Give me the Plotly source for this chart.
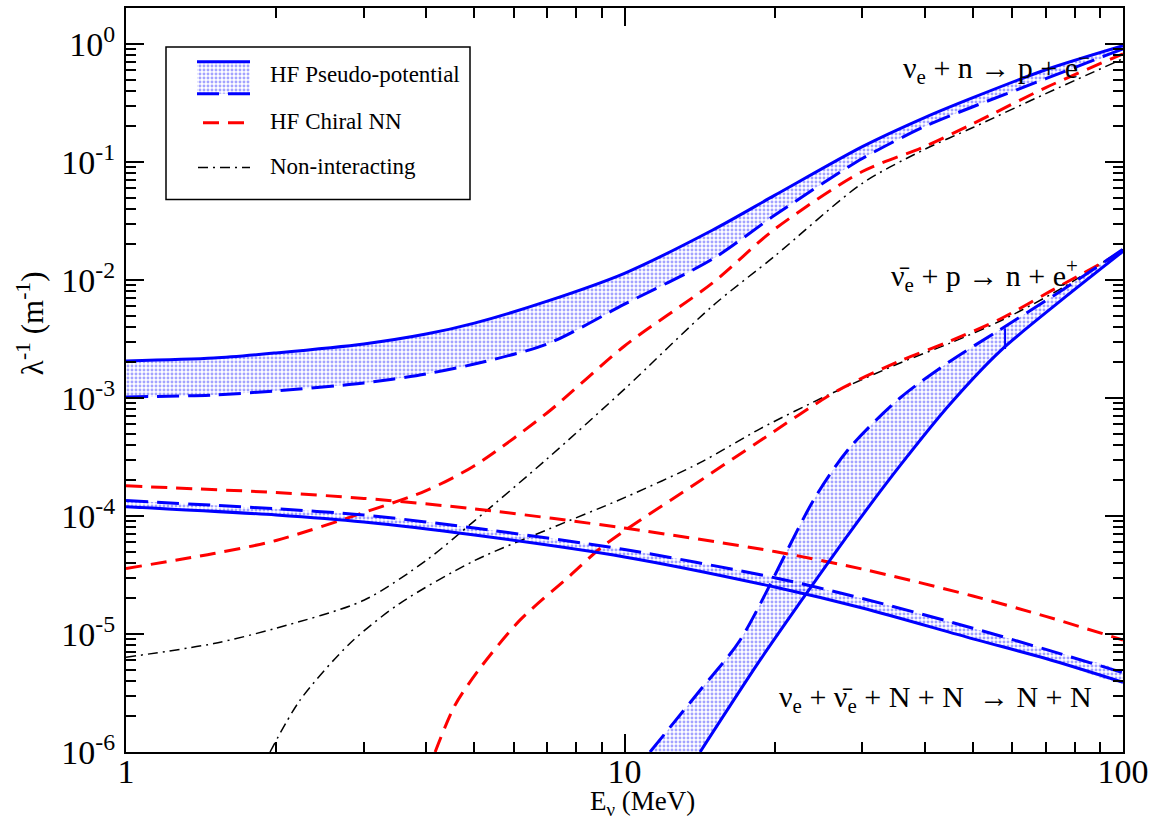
import plotly.graph_objects as go

# ---------------- data: inverse mean free path (m^-1) vs neutrino energy (MeV)
# nu_e + n -> p + e-
E_abs = [1, 1.5, 2, 3, 4, 5, 7, 10, 15, 20, 30, 40, 50, 70, 100]
nue_n_hf_hi = [2.06e-3, 2.18e-3, 2.41e-3, 2.87e-3, 3.48e-3, 4.31e-3, 6.62e-3, 1.14e-2, 2.64e-2, 5.21e-2, 0.135, 0.238, 0.351, 0.605, 0.966]
nue_n_hf_lo = [1.02e-3, 1.06e-3, 1.15e-3, 1.34e-3, 1.6e-3, 1.94e-3, 2.87e-3, 6.24e-3, 1.5e-2, 3.53e-2, 0.107, 0.2, 0.294, 0.508, 0.91]
nue_n_chiral = [3.59e-5, 4.81e-5, 6.2e-5, 1.07e-4, 1.64e-4, 2.67e-4, 7.5e-4, 2.76e-3, 9.4e-3, 2.69e-2, 8.3e-2, 0.135, 0.211, 0.427, 0.826]
nue_n_free = [6.35e-6, 8.3e-6, 1.12e-5, 1.93e-5, 4.2e-5, 9.1e-5, 3.06e-4, 1.19e-3, 6.0e-3, 1.59e-2, 6.6e-2, 0.128, 0.196, 0.38, 0.75]

# anti-nu_e + p -> n + e+
E_anue_hi = [11.25, 14.18, 17.05, 24.1, 28.3, 35.7, 45.0, 56.7, 74.8, 100]
anue_p_hf_hi = [1e-6, 3.34e-6, 8.85e-6, 1.43e-4, 3.79e-4, 1.0e-3, 2.05e-3, 3.8e-3, 8.0e-3, 1.82e-2]
E_anue_lo = [14.18, 18.7, 22.5, 28.3, 35.7, 45.0, 56.7, 74.8, 100]
anue_p_hf_lo = [1e-6, 6.0e-6, 1.85e-5, 7.24e-5, 2.67e-4, 8.9e-4, 2.5e-3, 6.62e-3, 1.75e-2]
# short step in the upper boundary near 58 MeV
E_anue_step = [58, 58]
anue_p_step = [2.6e-3, 3.9e-3]
E_anue_chiral = [4.17, 4.57, 5.13, 6.17, 7.78, 8.93, 10, 14.18, 18.7, 26.7, 35.7, 45.0, 56.7, 71.4, 100]
anue_p_chiral = [1e-6, 2.49e-6, 5.13e-6, 1.31e-5, 3.13e-5, 5.3e-5, 7.5e-5, 1.99e-4, 4.34e-4, 1.15e-3, 2.06e-3, 3.04e-3, 4.67e-3, 8.0e-3, 1.75e-2]
E_anue_free = [1.945, 2.234, 2.815, 3.545, 5.01, 7.09, 10, 14.18, 18.7, 25.5, 35.7, 45.0, 56.7, 74.8, 100]
anue_p_free = [1e-6, 2.75e-6, 8.35e-6, 1.82e-5, 4.2e-5, 7.83e-5, 1.43e-4, 2.83e-4, 5.48e-4, 1.05e-3, 1.98e-3, 2.92e-3, 4.49e-3, 8.36e-3, 1.82e-2]

# nu_e + anti-nu_e + N + N -> N + N
E_pair = [1, 2, 3, 5, 10, 20, 30, 50, 70, 100]
pair_hf_hi = [1.35e-4, 1.15e-4, 1.02e-4, 7.9e-5, 5.2e-5, 3.0e-5, 2.0e-5, 1.12e-5, 7.4e-6, 4.7e-6]
pair_hf_lo = [1.2e-4, 1.02e-4, 8.9e-5, 6.9e-5, 4.5e-5, 2.5e-5, 1.66e-5, 9.1e-6, 6.2e-6, 3.9e-6]
pair_chiral = [1.8e-4, 1.58e-4, 1.41e-4, 1.15e-4, 7.9e-5, 5.0e-5, 3.55e-5, 2.1e-5, 1.41e-5, 8.9e-6]

x_ticks = [1, 10, 100]
x_ticktext = ["1", "10", "100"]
y_ticks = [1e-6, 1e-5, 1e-4, 1e-3, 1e-2, 1e-1, 1e0]
y_ticktext = ["10<sup>-6</sup>", "10<sup>-5</sup>", "10<sup>-4</sup>", "10<sup>-3</sup>",
              "10<sup>-2</sup>", "10<sup>-1</sup>", "10<sup>0</sup>"]

legend_labels = ["HF Pseudo-potential", "HF Chiral NN", "Non-interacting"]

# ---------------- styles
BLUE = "#0000ff"
RED = "#ff0000"
FONT = "Liberation Serif"
W, H = 1156, 824
L, R, T, B = 126, 1123, 6, 752
pattern = dict(shape=".", fgcolor="#4848ff", bgcolor="rgba(255,255,255,0)", size=4, solidity=0.42)
blue_dash = "22px,9px"
red_dash = "16px,9px"
black_dashdot = "10px,5px,2px,5px"
SMOOTH = 0.8

fig = go.Figure()


def band(x_lo, y_lo, x_hi, y_hi):
    fig.add_trace(go.Scatter(
        x=list(x_lo) + list(x_hi)[::-1], y=list(y_lo) + list(y_hi)[::-1],
        mode="lines", fill="toself", fillpattern=pattern, fillcolor="rgba(0,0,0,0)",
        line=dict(width=0, shape="spline", smoothing=SMOOTH), hoverinfo="skip", showlegend=False))


def curve(x, y, color, width, dash):
    fig.add_trace(go.Scatter(
        x=x, y=y, mode="lines", showlegend=False,
        line=dict(color=color, width=width, dash=dash, shape="spline", smoothing=SMOOTH)))


# bands (HF pseudo-potential)
band(E_abs, nue_n_hf_lo, E_abs, nue_n_hf_hi)
band(E_anue_lo, anue_p_hf_lo, E_anue_hi, anue_p_hf_hi)
band(E_pair, pair_hf_lo, E_pair, pair_hf_hi)

# non-interacting
curve(E_abs, nue_n_free, "black", 1.5, black_dashdot)
curve(E_anue_free, anue_p_free, "black", 1.5, black_dashdot)
# chiral NN
curve(E_abs, nue_n_chiral, RED, 3, red_dash)
curve(E_anue_chiral, anue_p_chiral, RED, 3, red_dash)
curve(E_pair, pair_chiral, RED, 3, red_dash)
# pseudo-potential boundaries
curve(E_abs, nue_n_hf_hi, BLUE, 3, "solid")
curve(E_abs, nue_n_hf_lo, BLUE, 3, blue_dash)
curve(E_anue_lo, anue_p_hf_lo, BLUE, 3, "solid")
curve(E_anue_hi, anue_p_hf_hi, BLUE, 3, blue_dash)
curve(E_anue_step, anue_p_step, BLUE, 2, "solid")
curve(E_pair, pair_hf_lo, BLUE, 3, "solid")
curve(E_pair, pair_hf_hi, BLUE, 3, blue_dash)


# ---------------- legend, drawn on a hidden unit overlay axis
def fx(px):
    return (px - L) / (R - L)


def fy(py):
    return (B - py) / (B - T)


fig.add_trace(go.Scatter(
    x=[fx(197), fx(250), fx(250), fx(197), fx(197)], y=[fy(60), fy(60), fy(92), fy(92), fy(60)],
    xaxis="x2", yaxis="y2", mode="lines", fill="toself", fillpattern=pattern,
    fillcolor="rgba(0,0,0,0)", line=dict(width=0), showlegend=False, hoverinfo="skip"))
fig.add_trace(go.Scatter(x=[fx(197), fx(250)], y=[fy(60), fy(60)], xaxis="x2", yaxis="y2",
                         mode="lines", line=dict(color=BLUE, width=3), showlegend=False))
fig.add_trace(go.Scatter(x=[fx(197), fx(250)], y=[fy(92), fy(92)], xaxis="x2", yaxis="y2",
                         mode="lines", line=dict(color=BLUE, width=3, dash="22px,9px"), showlegend=False))
fig.add_trace(go.Scatter(x=[fx(203), fx(247)], y=[fy(121), fy(121)], xaxis="x2", yaxis="y2",
                         mode="lines", line=dict(color=RED, width=3, dash=red_dash), showlegend=False))
fig.add_trace(go.Scatter(x=[fx(198), fx(250)], y=[fy(166), fy(166)], xaxis="x2", yaxis="y2",
                         mode="lines", line=dict(color="black", width=1.5, dash=black_dashdot),
                         showlegend=False))

shapes = [dict(type="rect", xref="paper", yref="paper", x0=fx(166), x1=fx(470), y0=fy(198), y1=fy(45),
               line=dict(color="black", width=1.5), fillcolor="rgba(0,0,0,0)", layer="below")]

annotations = []
for label, py in zip(legend_labels, [73, 120, 165]):
    annotations.append(dict(text=label, xref="paper", yref="paper", x=fx(268), y=fy(py),
                            xanchor="left", yanchor="middle", showarrow=False,
                            font=dict(family=FONT, size=23, color="black")))

# reaction labels
reac_font = dict(family=FONT, size=30, color="black")
annotations += [
    dict(text="ν<sub>e</sub> + n → p + e<sup>−</sup>", xref="paper", yref="paper",
         x=fx(1092), y=fy(66), xanchor="right", yanchor="middle", showarrow=False, font=reac_font),
    dict(text="ν\u0304<sub>e</sub> + p → n + e<sup>+</sup>", xref="paper", yref="paper",
         x=fx(1080), y=fy(274), xanchor="right", yanchor="middle", showarrow=False, font=reac_font),
    dict(text="ν<sub>e</sub> + ν\u0304<sub>e</sub> + N + N  → N + N", xref="paper", yref="paper",
         x=fx(1094), y=fy(699), xanchor="right", yanchor="middle", showarrow=False, font=reac_font),
    dict(text="E<sub>ν</sub> (MeV)", xref="paper", yref="paper", x=fx(642), y=fy(803),
         xanchor="center", yanchor="middle", showarrow=False,
         font=dict(family=FONT, size=27, color="black")),
    dict(text="λ<sup>-1</sup> (m<sup>-1</sup>)", xref="paper", yref="paper", x=fx(30), y=fy(322),
         xanchor="center", yanchor="middle", showarrow=False, textangle=-90,
         font=dict(family=FONT, size=31, color="black")),
]

axis_common = dict(showline=True, linecolor="black", linewidth=2, mirror="allticks",
                   ticks="inside", tickcolor="black", tickwidth=1.5, ticklen=18,
                   showgrid=False, zeroline=False)

minor_x = [v * d for d in (1, 10) for v in range(2, 10)]
minor_y = [v * 10.0 ** e for e in range(-6, 1) for v in range(2, 10)]

fig.update_layout(
    width=W, height=H,
    margin=dict(l=L, r=W - R, t=T, b=H - B),
    paper_bgcolor="white", plot_bgcolor="white",
    font=dict(family=FONT, color="black"),
    showlegend=False,
    xaxis=dict(type="log", range=[0, 2], tickmode="array", tickvals=x_ticks, ticktext=x_ticktext,
               tickfont=dict(family=FONT, size=34, color="black"), ticklabelstandoff=-12,
               minor=dict(tickmode="array", tickvals=minor_x, ticks="inside", ticklen=10,
                          tickwidth=1.5, tickcolor="black", showgrid=False),
               **axis_common),
    yaxis=dict(type="log", range=[-6, 0.305], tickmode="array", tickvals=y_ticks, ticktext=y_ticktext,
               tickfont=dict(family=FONT, size=34, color="black"), ticklabelstandoff=2,
               minor=dict(tickmode="array", tickvals=minor_y, ticks="inside", ticklen=10,
                          tickwidth=1.5, tickcolor="black", showgrid=False),
               **axis_common),
    xaxis2=dict(overlaying="x", range=[0, 1], visible=False, fixedrange=True),
    yaxis2=dict(overlaying="y", range=[0, 1], visible=False, fixedrange=True),
    shapes=shapes,
    annotations=annotations,
)

fig.write_html("out.html")
